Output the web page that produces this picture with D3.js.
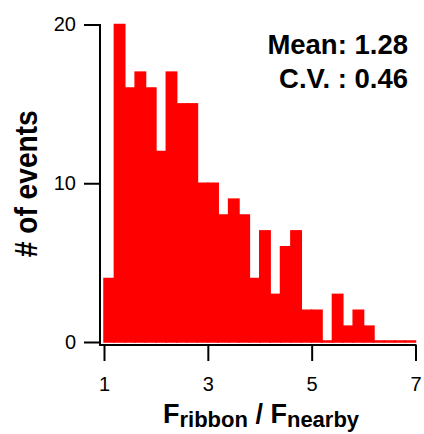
<!DOCTYPE html>
<html>
<head>
<meta charset="utf-8">
<script src="https://cdn.jsdelivr.net/npm/d3@7"></script>
<style>
  html, body { margin: 0; padding: 0; background: #fff; }
  svg { display: block; font-family: "Liberation Sans", Arial, Helvetica, sans-serif; }
</style>
</head>
<body>
<svg id="chart" width="424" height="434"></svg>
<script>
// Histogram of F_ribbon / F_nearby ratios, bins of width 0.2 from 1 to 7
const binStarts = d3.range(30).map(i => +(1 + i * 0.2).toFixed(1));
const binWidth = 0.2;
const counts = [4, 20, 16, 17, 16, 12, 17, 15, 15, 10,
                10, 8, 9, 8, 4, 7, 3, 6, 7, 2,
                2, 0, 3, 1, 2, 1, 0, 0, 0, 0];
const xTicks = [1, 3, 5, 7];
const yTicks = [0, 10, 20];
const statLines = ["Mean: 1.28", "C.V. : 0.46"];

const svg = d3.select("#chart");

const x = d3.scaleLinear().domain([1, 7]).range([104, 415.5]);
const y = d3.scaleLinear().domain([0, 20]).range([342, 24.5]);

const axisX = 100;   // y-axis line position (offset left of the data start)
const axisY = 345;   // x-axis line position (offset below zero)

// bars; empty bins still show as a thin line on the baseline
svg.append("g")
  .selectAll("rect")
  .data(binStarts)
  .join("rect")
  .attr("x", (d) => x(d))
  .attr("width", (d) => x(d + binWidth) - x(d))
  .attr("y", (d, i) => Math.min(y(counts[i]), y(0) - 1))
  .attr("height", (d, i) => Math.max(y(0) - y(counts[i]), 1))
  .attr("fill", "#ff0000")
  .attr("stroke", "#ff0000")
  .attr("stroke-width", 1.5);

// y axis
const gy = svg.append("g")
  .attr("transform", `translate(${axisX},0)`)
  .call(d3.axisLeft(y).tickValues(yTicks).tickFormat(d3.format("d"))
    .tickSize(16).tickSizeOuter(0).tickPadding(8));
// x axis
const gx = svg.append("g")
  .attr("transform", `translate(0,${axisY})`)
  .call(d3.axisBottom(x).tickValues(xTicks).tickFormat(d3.format("d"))
    .tickSize(16).tickSizeOuter(0).tickPadding(16));

[gx, gy].forEach(g => {
  g.select(".domain").remove();
  g.selectAll(".tick line").attr("stroke", "#000").attr("stroke-width", 2);
  g.selectAll(".tick text")
    .attr("fill", "#000")
    .style("font-size", "20px")
    .style("font-family", "'Liberation Sans', Arial, sans-serif");
});

// axis lines meeting at the corner
svg.append("path")
  .attr("d", `M${axisX},${y(20) - 0.5}V${axisY}H${x(7) + 1}`)
  .attr("fill", "none")
  .attr("stroke", "#000")
  .attr("stroke-width", 2);

// y title
svg.append("text")
  .attr("transform", `translate(36.5,${(y(10) + 0.5)}) rotate(-90)`)
  .attr("text-anchor", "middle")
  .attr("font-weight", "bold")
  .attr("font-size", 32)
  .attr("textLength", 147)
  .attr("lengthAdjust", "spacingAndGlyphs")
  .text("# of events");

// x title with subscripts
const xt = svg.append("text")
  .attr("x", 163)
  .attr("y", 423.3)
  .attr("font-weight", "bold")
  .attr("font-size", 27);
xt.append("tspan").text("F");
xt.append("tspan").attr("font-size", 22).attr("dy", 4).text("ribbon");
xt.append("tspan").attr("dy", -4).text(" / F");
xt.append("tspan").attr("font-size", 22).attr("dy", 4).text("nearby");

// summary statistics
svg.append("g")
  .selectAll("text")
  .data(statLines)
  .join("text")
  .attr("x", 408)
  .attr("y", (d, i) => 54.3 + i * 34)
  .attr("text-anchor", "end")
  .attr("font-weight", "bold")
  .attr("font-size", 27.5)
  .text(d => d);
</script>
</body>
</html>
